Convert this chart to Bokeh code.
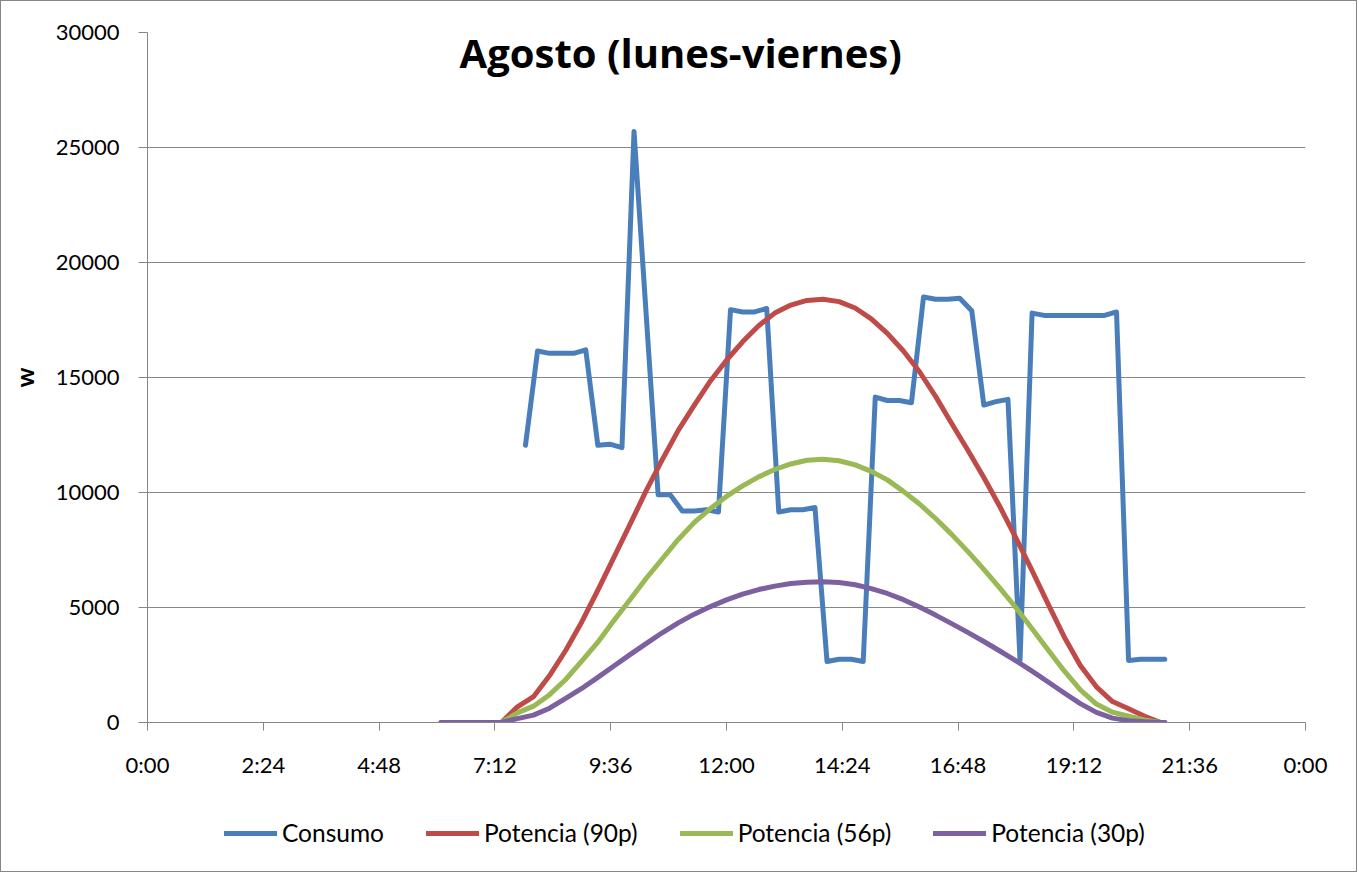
from bokeh.plotting import figure
from bokeh.layouts import column
from bokeh.models import (Range1d, FixedTicker, CustomJSTickFormatter, Legend, LegendItem,
                          Label, NumeralTickFormatter, ColumnDataSource)
from bokeh.embed import file_html
from bokeh.resources import INLINE

# ---------------- data ----------------
# Consumo: every 15 minutes from 7:50 to 21:05 (minutes after midnight)
consumo_min = list(range(470, 470 + 15 * 54, 15))
consumo_w = [12050, 16150, 16050, 16050, 16050, 16200, 12050, 12100, 11950, 25700,
             17800, 9900, 9900, 9200, 9200, 9250, 9150, 17950, 17850, 17850,
             18000, 9150, 9250, 9250, 9350, 2650, 2750, 2750, 2650, 14150,
             14000, 14000, 13900, 18500, 18400, 18400, 18450, 17900, 13800, 13950,
             14050, 2700, 17800, 17700, 17700, 17700, 17700, 17700, 17700, 17850,
             2700, 2750, 2750, 2750]

# Potencia curves: 6:05, then every 20 minutes 7:20 .. 21:00, then 21:05
potencia_min = [365] + list(range(440, 1261, 20)) + [1265]
potencia_90p = [0,
                0, 680, 1120, 2040, 3130, 4370, 5750, 7180, 8610, 10070,
                11420, 12700, 13800, 14850, 15750, 16550, 17250, 17800, 18150, 18350,
                18400, 18300, 18020, 17550, 16920, 16150, 15250, 14180, 13000, 11850,
                10650, 9380, 8020, 6600, 5150, 3720, 2480, 1550, 910, 600,
                270, 0,
                0]
potencia_56p = [0,
                0, 420, 710, 1210, 1870, 2670, 3490, 4430, 5340, 6260,
                7110, 7960, 8700, 9300, 9830, 10290, 10680, 11000, 11240, 11400,
                11450, 11380, 11200, 10920, 10550, 10050, 9500, 8870, 8180, 7440,
                6660, 5840, 4990, 4080, 3150, 2240, 1420, 800, 450, 270,
                110, 0,
                0]
potencia_30p = [0,
                0, 170, 320, 620, 1050, 1480, 1960, 2460, 2950, 3430,
                3900, 4330, 4710, 5040, 5330, 5580, 5780, 5930, 6040, 6100,
                6120, 6090, 5990, 5820, 5610, 5340, 5020, 4670, 4300, 3920,
                3520, 3110, 2680, 2230, 1760, 1280, 820, 440, 190, 80,
                30, 0,
                0]

series_names = ["Consumo", "Potencia (90p)", "Potencia (56p)", "Potencia (30p)"]
series_colors = ["#4A7EBB", "#BE4B48", "#98B954", "#7D60A0"]
x_ticks = list(range(0, 1441, 144))
y_ticks = [0, 5000, 10000, 15000, 20000, 25000, 30000]
title_text = "Agosto (lunes-viernes)"
y_label = "w"

FONT = "Lato"
GRAY = "#868686"
LW = 5

# ---------------- main chart ----------------
p = figure(width=1357, height=800, output_backend="svg", toolbar_location=None,
           x_range=Range1d(0, 1440), y_range=Range1d(0, 30000),
           min_border_left=146, min_border_right=53, min_border_top=31,
           min_border_bottom=79)
p.styles = {"border-top": "1px solid " + GRAY, "border-left": "1px solid " + GRAY,
            "border-right": "1px solid " + GRAY}
p.outline_line_color = None
p.background_fill_color = "white"
p.border_fill_color = "white"

src_c = ColumnDataSource(dict(x=consumo_min, y=consumo_w))
src_p = ColumnDataSource(dict(x=potencia_min, a=potencia_90p, b=potencia_56p, c=potencia_30p))

p.line("x", "y", source=src_c, color=series_colors[0], line_width=LW,
       line_join="round", line_cap="round")
p.line("x", "a", source=src_p, color=series_colors[1], line_width=LW,
       line_join="round", line_cap="round")
p.line("x", "b", source=src_p, color=series_colors[2], line_width=LW,
       line_join="round", line_cap="round")
p.line("x", "c", source=src_p, color=series_colors[3], line_width=LW,
       line_join="round", line_cap="round")

p.xgrid.visible = False
p.ygrid.grid_line_color = GRAY
p.ygrid.grid_line_width = 1
p.xaxis.ticker = FixedTicker(ticks=x_ticks)
p.yaxis.ticker = FixedTicker(ticks=y_ticks)
p.xaxis.formatter = CustomJSTickFormatter(code="""
const h = Math.floor(tick / 60) % 24;
const m = Math.round(tick % 60);
return h + ':' + (m < 10 ? '0' : '') + m;
""")
p.yaxis.formatter = NumeralTickFormatter(format="0")
for ax in (p.xaxis, p.yaxis):
    ax.axis_line_color = GRAY
    ax.axis_line_width = 1
    ax.major_tick_line_color = GRAY
    ax.minor_tick_line_color = None
    ax.major_tick_in = 0
    ax.major_label_text_font = FONT
    ax.major_label_text_font_size = "22px"
    ax.major_label_text_color = "black"
p.xaxis.major_tick_out = 8
p.yaxis.major_tick_out = 9
p.xaxis.major_label_standoff = 20
p.yaxis.major_label_standoff = 19

p.yaxis.axis_label = y_label
p.yaxis.axis_label_text_font = FONT
p.yaxis.axis_label_text_font_style = "bold"
p.yaxis.axis_label_text_font_size = "25px"
p.yaxis.axis_label_text_color = "black"
p.yaxis.axis_label_standoff = 14

p.add_layout(Label(x=663, y=29130, text=title_text, text_align="center",
                   text_baseline="alphabetic", text_font="Open Sans", text_font_style="bold",
                   text_font_size="40px", text_color="black"))

# ---------------- legend strip ----------------
q = figure(width=1357, height=72, output_backend="svg", toolbar_location=None,
           x_range=Range1d(0, 1), y_range=Range1d(0, 1),
           min_border_left=0, min_border_right=0, min_border_top=0, min_border_bottom=0)
q.styles = {"border-bottom": "1px solid " + GRAY, "border-left": "1px solid " + GRAY,
            "border-right": "1px solid " + GRAY}
q.axis.visible = False
q.grid.visible = False
q.outline_line_color = None
q.background_fill_color = "white"
q.border_fill_color = "white"

offscreen = ColumnDataSource(dict(x=[-5], y=[-5]))
items = []
for name, col in zip(series_names, series_colors):
    r = q.line("x", "y", source=offscreen, color=col, line_width=LW, line_cap="round")
    items.append(LegendItem(label=name, renderers=[r]))

legend = Legend(items=items, orientation="horizontal", location=(77, 25),
                glyph_width=53, glyph_height=24, label_height=24,
                label_standoff=5, spacing=42, padding=0, margin=0,
                border_line_alpha=0, background_fill_alpha=0,
                label_text_font=FONT, label_text_font_size="24.5px",
                label_text_color="black")
q.add_layout(legend, "center")

layout = column(p, q, spacing=0)
open("out.html", "w").write(file_html(layout, INLINE))
